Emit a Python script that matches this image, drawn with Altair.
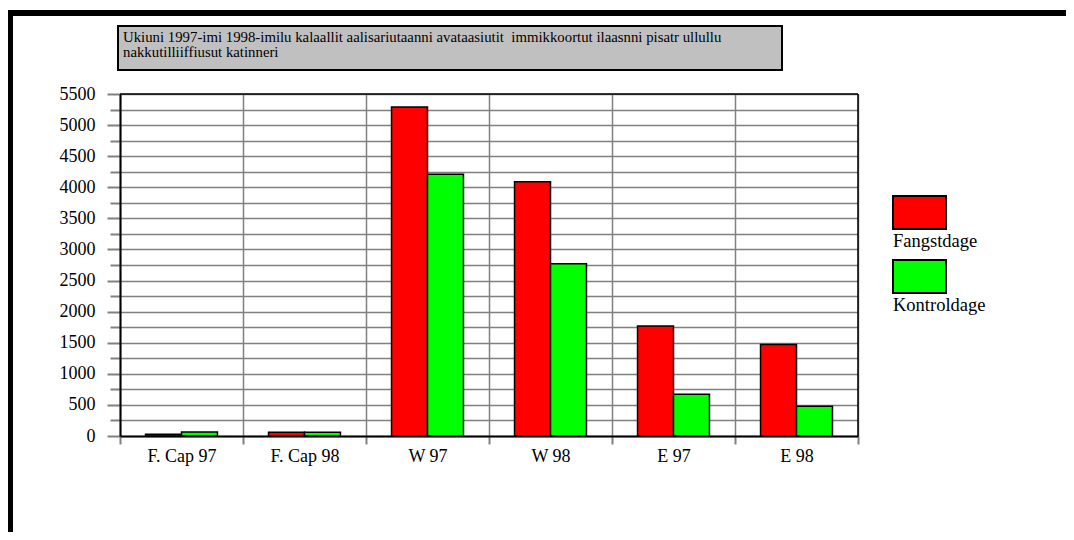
import altair as alt
import pandas as pd

categories = ["F. Cap 97", "F. Cap 98", "W 97", "W 98", "E 97", "E 98"]
series = ["Fangstdage", "Kontroldage"]
fangstdage = [30, 60, 5290, 4090, 1770, 1470]
kontroldage = [65, 60, 4210, 2770, 670, 480]
colors = ["#ff0000", "#00ff00"]
title_lines = [
    "Ukiuni 1997-imi 1998-imilu kalaallit aalisariutaanni avataasiutit \u00a0immikkoortut ilaasnni pisatr ullullu",
    "nakkutilliiffiusut katinneri",
]
y_ticks = list(range(0, 5501, 250))

rows = []
for c, f, k in zip(categories, fangstdage, kontroldage):
    rows.append({"cat": c, "series": series[0], "value": f})
    rows.append({"cat": c, "series": series[1], "value": k})
df = pd.DataFrame(rows)
one = pd.DataFrame({"k": [0]})

FONT = "Liberation Serif"
GRID = "#808080"

bars = alt.Chart(df).mark_bar(stroke="black", strokeWidth=1.5).encode(
    x=alt.X(
        "cat:N",
        sort=categories,
        scale=alt.Scale(paddingInner=0, paddingOuter=0),
        axis=alt.Axis(
            title=None, labelAngle=0, tickBand="extent", grid=True,
            gridColor=GRID, gridWidth=1.5, domainColor="black", domainWidth=2,
            tickColor=GRID, tickWidth=2, tickSize=8, labelPadding=3,
            labelFont=FONT, labelFontSize=18, labelColor="black",
        ),
    ),
    xOffset=alt.XOffset(
        "series:N", sort=series,
        scale=alt.Scale(paddingInner=0, paddingOuter=0.71),
    ),
    y=alt.Y(
        "value:Q",
        scale=alt.Scale(domain=[0, 5500], nice=False, zero=True),
        axis=alt.Axis(
            title=None, values=y_ticks, format="d",
            labelExpr="datum.value % 500 === 0 ? datum.label : ''",
            grid=True, gridColor=GRID, gridWidth=1.5,
            domainColor="black", domainWidth=2,
            tickColor=GRID, tickWidth=2,
            tickSize={"condition": {"test": "datum.value % 500 === 0", "value": 13}, "value": 10},
            labelPadding=12, labelFont=FONT, labelFontSize=18, labelColor="black",
        ),
    ),
    color=alt.Color("series:N", scale=alt.Scale(domain=series, range=colors), legend=None),
)

top_edge = alt.Chart(one).mark_rule(color="black", strokeWidth=1.5).encode(
    x=alt.value(0), x2=alt.value("width"), y=alt.value(0))
right_edge = alt.Chart(one).mark_rule(color="black", strokeWidth=1.5).encode(
    x=alt.value("width"), y=alt.value(0), y2=alt.value("height"))

frame_top = alt.Chart(one).mark_rule(color="black", strokeWidth=6).encode(
    x=alt.value(-113), x2=alt.value(960), y=alt.value(-81))
frame_left = alt.Chart(one).mark_rule(color="black", strokeWidth=6).encode(
    x=alt.value(-110), y=alt.value(-84), y2=alt.value(450))

title_box = alt.Chart(one).mark_rect(fill="#c0c0c0", stroke="black", strokeWidth=2).encode(
    x=alt.value(-2), x2=alt.value(662), y=alt.value(-68), y2=alt.value(-24))
title_text = alt.Chart(one).mark_text(
    align="left", baseline="alphabetic", font=FONT, fontSize=14.8, lineHeight=15, color="black"
).encode(x=alt.value(3), y=alt.value(-52), text=alt.value(title_lines))

legend_layers = []
for i, (s, col) in enumerate(zip(series, colors)):
    off = i * 64
    legend_layers.append(
        alt.Chart(one).mark_rect(fill=col, stroke="black", strokeWidth=2).encode(
            x=alt.value(773), x2=alt.value(826), y=alt.value(102 + off), y2=alt.value(135 + off))
    )
    legend_layers.append(
        alt.Chart(one).mark_text(align="left", baseline="alphabetic", font=FONT,
                                 fontSize=18.5, color="black").encode(
            x=alt.value(773), y=alt.value(153 + off), text=alt.value(s))
    )

chart = alt.layer(
    bars, top_edge, right_edge, frame_top, frame_left, title_box, title_text, *legend_layers
).properties(
    width=738, height=342,
    padding={"left": 112, "top": 86, "right": 208, "bottom": 96},
    autosize=alt.AutoSizeParams(type="none"),
    background="white",
).configure_view(stroke=None).configure_axis(labelFont=FONT, labelColor="black")

chart.save("out.html", embed_options={"renderer": "svg", "actions": False})
